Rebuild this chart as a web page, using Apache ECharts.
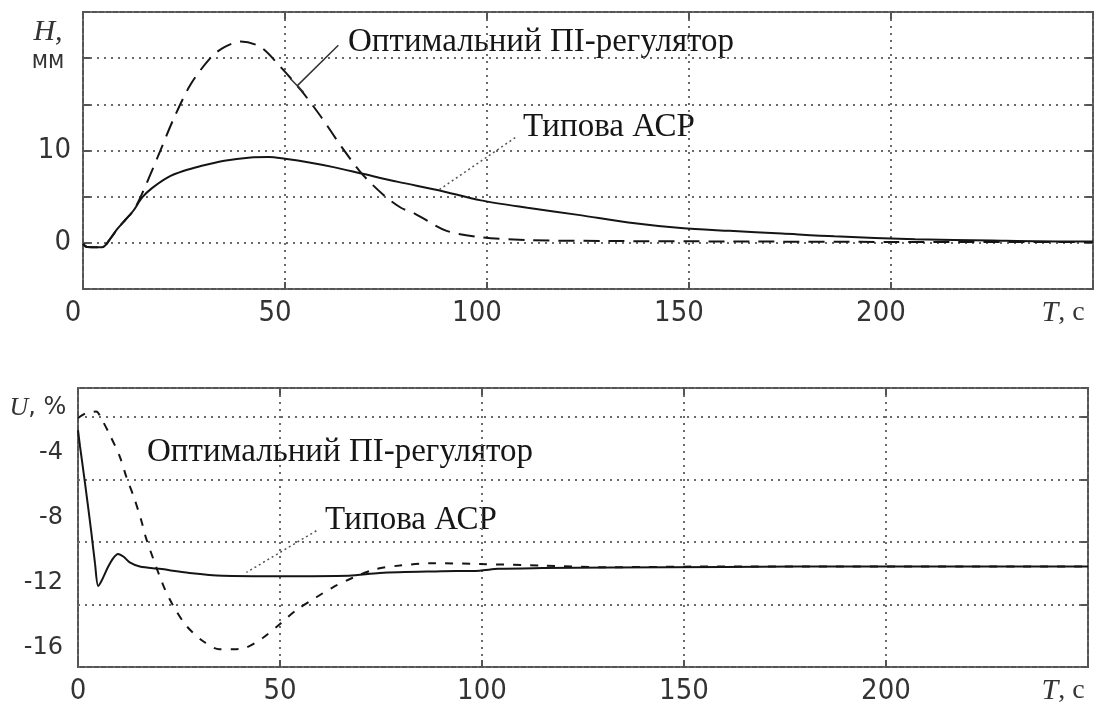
<!DOCTYPE html>
<html>
<head>
<meta charset="utf-8">
<style>
html, body { margin: 0; padding: 0; background: #fff; }
#chart { width: 1100px; height: 707px; }
</style>
<script src="https://cdn.jsdelivr.net/npm/echarts@6.0.0/dist/echarts.min.js"></script>
</head>
<body>
<div id="chart"></div>
<script>
// верхній графік: рівень H, мм
var tTypicalH = [0, 1, 4.7, 7, 8.5, 10.5, 12.5, 14.6, 17, 21, 25, 29, 35, 41.5, 46, 50, 56, 62, 69, 78, 88, 98.5, 110, 123, 135, 148, 160, 173, 186, 206, 225, 244, 250];
var hTypical  = [-0.1, -0.45, -0.48, 0.6, 1.5, 2.5, 3.5, 4.9, 5.9, 7.1, 7.8, 8.3, 8.9, 9.25, 9.3, 9.1, 8.7, 8.2, 7.5, 6.6, 5.7, 4.6, 3.8, 3.0, 2.2, 1.6, 1.3, 1.0, 0.7, 0.4, 0.25, 0.15, 0.15];
var tOptimalH = [0, 1, 4.7, 7, 8.5, 10.5, 12.5, 14.6, 18.5, 22.6, 26.7, 31.7, 35, 39, 44, 49, 54, 59, 64, 69, 74.6, 78.7, 82, 90, 98.5, 110, 130, 160, 200, 250];
var hOptimal  = [-0.1, -0.45, -0.48, 0.6, 1.5, 2.5, 3.5, 5.3, 9.3, 13.6, 17.2, 20.1, 21.2, 21.8, 21.2, 19.0, 16.5, 13.6, 10.4, 7.5, 5.1, 3.8, 3.2, 1.3, 0.6, 0.3, 0.2, 0.15, 0.1, 0.1];

// нижній графік: керуюча дія U, %
var tTypicalU = [0, 0.5, 1.7, 3.3, 4.2, 5.0, 5.8, 7.4, 8.7, 9.9, 11.3, 12.8, 15.3, 20.2, 27.6, 35.8, 50, 67, 74.7, 90, 99.4, 104, 115, 132, 160, 196, 250];
var uTypical  = [-2.6, -3.6, -5.8, -8.9, -10.8, -12.2, -11.9, -11.05, -10.5, -10.23, -10.4, -10.75, -11.0, -11.15, -11.4, -11.57, -11.6, -11.57, -11.4, -11.3, -11.26, -11.15, -11.1, -11.06, -11.03, -11.0, -11.0];
var tOptimalU = [0, 2, 4.5, 5.8, 7.8, 10.3, 12, 14, 15.7, 16.9, 21, 23.5, 26.8, 30.9, 35, 39.2, 41.7, 45.8, 50, 54, 59, 63, 68, 73.9, 79.6, 87.9, 99.4, 115, 130, 160, 250];
var uOptimal  = [-1.85, -1.55, -1.45, -1.9, -2.85, -4.2, -5.5, -6.85, -8.2, -9.3, -12.1, -13.4, -14.65, -15.6, -16.1, -16.1, -16.0, -15.4, -14.55, -13.7, -12.9, -12.3, -11.7, -11.15, -10.95, -10.8, -10.85, -10.95, -11.05, -11.0, -11.0];

// підписи осей
var timeTicks = [0, 50, 100, 150, 200];
var hTicks = [0, 10];
var uTicks = [-4, -8, -12, -16];

// виноски (в координатах даних)
var leaderOptH = [[63.2, 21.4], [53, 17.0]];
var leaderOptHBar = [[51.3, 17.8], [54.6, 16.3]];
var leaderTypH = [[107, 11.4], [87.9, 5.67]];
var leaderTypU = [[59, -8.8], [41.7, -11.37]];

function pairs(t, v) {
    return t.map(function (x, i) { return [x, v[i]]; });
}

var narrowFont = "'DejaVu Sans Condensed', 'Liberation Sans Narrow', sans-serif";
var serifFont = "'Liberation Serif', 'DejaVu Serif', serif";
var frameColor = '#555';
var gridDots = { type: [2, 5], color: '#6a6a6a', width: 2 };
var curveColor = '#151515';

function ticks() {
    return { show: true, inside: true, length: 7, lineStyle: { color: frameColor, width: 2 } };
}

function timeAxis(gridIndex, shiftLeft) {
    return {
        type: 'value', gridIndex: gridIndex, min: 0, max: 250, interval: 50,
        axisLine: { show: false, onZero: false },
        axisTick: ticks(),
        splitLine: { show: true, lineStyle: gridDots },
        axisLabel: {
            margin: 10, color: '#333', fontFamily: narrowFont, fontSize: 29,
            padding: [0, shiftLeft, 0, 0],
            formatter: function (v) { return timeTicks.indexOf(v) >= 0 ? String(v) : ''; }
        }
    };
}

function topTicks(gridIndex) {
    return {
        type: 'value', gridIndex: gridIndex, position: 'top', min: 0, max: 250, interval: 50,
        axisLine: { show: false, onZero: false }, axisTick: ticks(), splitLine: { show: false }, axisLabel: { show: false }
    };
}

function leader(coords) {
    return [{ coord: coords[0] }, { coord: coords[1] }];
}

var chart = echarts.init(document.getElementById('chart'));

var option = {
    animation: false,
    backgroundColor: '#fff',
    grid: [
        { left: 83, top: 12, width: 1010, height: 277, show: true, borderColor: frameColor, borderWidth: 2, backgroundColor: 'transparent' },
        { left: 78, top: 388, width: 1010, height: 279, show: true, borderColor: frameColor, borderWidth: 2, backgroundColor: 'transparent' }
    ],
    xAxis: [
        timeAxis(0, 20),
        timeAxis(1, 0),
        topTicks(0),
        topTicks(1)
    ],
    yAxis: [
        {
            type: 'value', gridIndex: 0, min: -5, max: 25, interval: 5,
            axisLine: { show: false, onZero: false }, axisTick: ticks(),
            splitLine: { show: true, lineStyle: gridDots },
            axisLabel: {
                margin: 12, color: '#333', fontFamily: narrowFont, fontSize: 29,
                formatter: function (v) { return hTicks.indexOf(v) >= 0 ? String(v) : ''; }
            }
        },
        {
            type: 'value', gridIndex: 0, position: 'right', min: -5, max: 25, interval: 5,
            axisLine: { show: false, onZero: false }, axisTick: ticks(), splitLine: { show: false }, axisLabel: { show: false }
        },
        {
            // шкала значень U
            type: 'value', gridIndex: 1, min: -17.2, max: 0, splitNumber: 9,
            axisLine: { show: false, onZero: false }, axisTick: { show: false }, splitLine: { show: false },
            axisLabel: {
                margin: 15, color: '#333', fontFamily: "'DejaVu Sans', sans-serif", fontSize: 24,
                formatter: function (v) { return uTicks.indexOf(v) >= 0 ? String(v) : ''; }
            }
        },
        {
            // сітка нижнього графіка
            type: 'value', gridIndex: 1, min: 0, max: 4.46, interval: 1,
            axisLine: { show: false, onZero: false }, axisTick: ticks(),
            splitLine: { show: true, lineStyle: gridDots }, axisLabel: { show: false }
        },
        {
            type: 'value', gridIndex: 1, position: 'right', min: 0, max: 4.46, interval: 1,
            axisLine: { show: false, onZero: false }, axisTick: ticks(), splitLine: { show: false }, axisLabel: { show: false }
        }
    ],
    series: [
        {
            name: 'Типова АСР', type: 'line', xAxisIndex: 0, yAxisIndex: 0,
            data: pairs(tTypicalH, hTypical), showSymbol: false, smooth: 0.3,
            lineStyle: { color: curveColor, width: 2 },
            markLine: {
                silent: true, symbol: 'none', label: { show: false },
                lineStyle: { type: [2, 3], color: '#555', width: 1.5 },
                data: [leader(leaderTypH)]
            }
        },
        {
            name: 'Оптимальний ПІ-регулятор', type: 'line', xAxisIndex: 0, yAxisIndex: 0,
            data: pairs(tOptimalH, hOptimal), showSymbol: false, smooth: 0.3,
            lineStyle: { color: curveColor, width: 2, type: [16, 9] },
            markLine: {
                silent: true, symbol: 'none', label: { show: false },
                lineStyle: { type: 'solid', color: '#333', width: 1.5 },
                data: [leader(leaderOptH), leader(leaderOptHBar)]
            }
        },
        {
            name: 'Типова АСР U', type: 'line', xAxisIndex: 1, yAxisIndex: 2,
            data: pairs(tTypicalU, uTypical), showSymbol: false, smooth: 0.3,
            lineStyle: { color: curveColor, width: 2 },
            markLine: {
                silent: true, symbol: 'none', label: { show: false },
                lineStyle: { type: [2, 3], color: '#555', width: 1.5 },
                data: [leader(leaderTypU)]
            }
        },
        {
            name: 'Оптимальний ПІ-регулятор U', type: 'line', xAxisIndex: 1, yAxisIndex: 2,
            data: pairs(tOptimalU, uOptimal), showSymbol: false, smooth: 0.3,
            lineStyle: { color: curveColor, width: 2, type: [8, 9] }
        }
    ],
    graphic: [
        { type: 'text', x: 48, y: 32, style: { text: 'H,', fill: '#333', font: "italic 30px " + serifFont, align: 'center', verticalAlign: 'middle' } },
        { type: 'text', x: 48, y: 62, style: { text: 'мм', fill: '#333', font: "24px 'DejaVu Sans Condensed', sans-serif", align: 'center', verticalAlign: 'middle' } },
        { type: 'text', x: 1063, y: 313, style: { text: '{i|T}{n|, с}', rich: { i: { font: "italic 30px " + serifFont, fill: '#333' }, n: { font: "28px " + serifFont, fill: '#333' } }, align: 'center', verticalAlign: 'middle' } },
        { type: 'text', x: 38, y: 408, style: { text: '{i|U}{n|, %}', rich: { i: { font: "italic 26px " + serifFont, fill: '#333' }, n: { font: "24px 'DejaVu Sans', sans-serif", fill: '#333' } }, align: 'center', verticalAlign: 'middle' } },
        { type: 'text', x: 1063, y: 691, style: { text: '{i|T}{n|, с}', rich: { i: { font: "italic 30px " + serifFont, fill: '#333' }, n: { font: "28px " + serifFont, fill: '#333' } }, align: 'center', verticalAlign: 'middle' } },
        { type: 'text', x: 348, y: 42, style: { text: 'Оптимальний ПІ-регулятор', fill: '#161616', font: "33px " + serifFont, verticalAlign: 'middle' } },
        { type: 'text', x: 523, y: 127, style: { text: 'Типова АСР', fill: '#161616', font: "33px " + serifFont, verticalAlign: 'middle' } },
        { type: 'text', x: 147, y: 452, style: { text: 'Оптимальний ПІ-регулятор', fill: '#161616', font: "33px " + serifFont, verticalAlign: 'middle' } },
        { type: 'text', x: 325, y: 520, style: { text: 'Типова АСР', fill: '#161616', font: "33px " + serifFont, verticalAlign: 'middle' } }
    ]
};

chart.setOption(option);
</script>
</body>
</html>
